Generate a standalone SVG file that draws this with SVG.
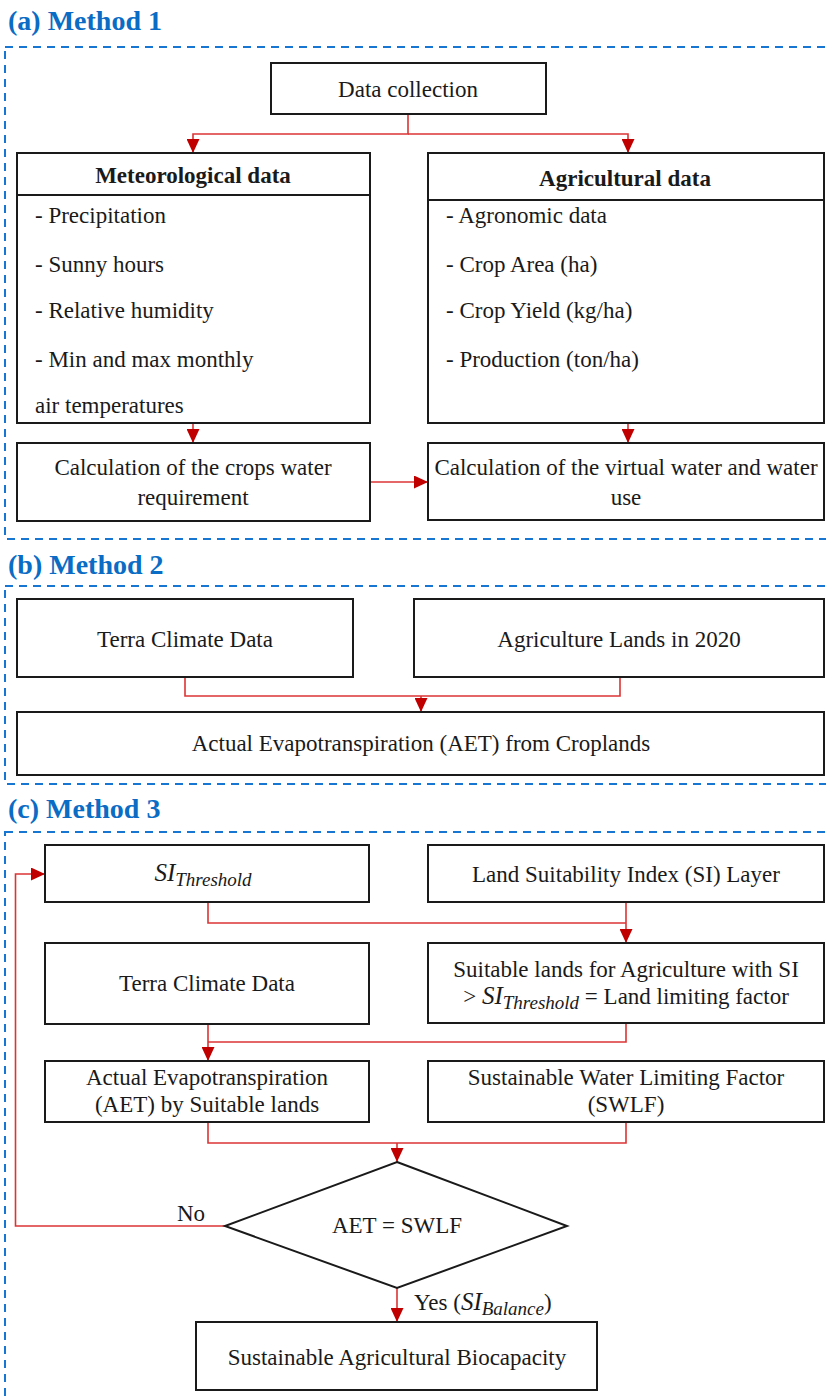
<svg xmlns="http://www.w3.org/2000/svg" width="826" height="1399" viewBox="0 0 826 1399" font-family="'Liberation Serif', 'Times New Roman', Tinos, 'DejaVu Serif', serif">
<style>
  text{font-family:'Liberation Serif','Times New Roman',Tinos,'DejaVu Serif',serif}
  .title{font-weight:bold;font-size:28px;fill:#0a6cc4}
  .frame{fill:none;stroke:#1776d1;stroke-width:2;stroke-dasharray:8 6}
  .box{fill:#fff;stroke:#1a1a1a;stroke-width:2}
  .t{font-size:23px;fill:#1a1a1a}
  .c{text-anchor:middle}
  .b{font-weight:bold}
  .it{font-style:italic;font-size:25px}
  .sub{font-style:italic;font-size:19px}
  .ln{fill:none;stroke:#dc3434;stroke-width:1.6}
</style>
<defs>
  <marker id="arr" markerUnits="userSpaceOnUse" markerWidth="14" markerHeight="13" refX="14" refY="6.5" orient="auto">
    <path d="M0,0 L14,6.5 L0,13 z" fill="#c00000"/>
  </marker>
</defs>

<!-- Section titles and frames -->
<text class="title" x="8" y="30">(a) Method 1</text>
<rect class="frame" x="5" y="47" width="830" height="492"/>
<text class="title" x="8" y="574">(b) Method 2</text>
<rect class="frame" x="5" y="586" width="830" height="198"/>
<text class="title" x="8" y="818">(c) Method 3</text>
<rect class="frame" x="5" y="832" width="830" height="600"/>

<!-- Connectors -->
<g id="connectors">
  <path class="ln" d="M408,114 V134 H193 V153" marker-end="url(#arr)"/>
  <path class="ln" d="M408,134 H628 V153" marker-end="url(#arr)"/>
  <path class="ln" d="M193,423 V443" marker-end="url(#arr)"/>
  <path class="ln" d="M628,423 V443" marker-end="url(#arr)"/>
  <path class="ln" d="M370,482 H428" marker-end="url(#arr)"/>

  <path class="ln" d="M185,677 V696 H620 V677"/>
  <path class="ln" d="M421,696 V712" marker-end="url(#arr)"/>

  <path class="ln" d="M208,902 V923 H626"/>
  <path class="ln" d="M626,902 V943" marker-end="url(#arr)"/>
  <path class="ln" d="M626,1023 V1042 H208"/>
  <path class="ln" d="M208,1024 V1061" marker-end="url(#arr)"/>
  <path class="ln" d="M208,1122 V1143 H626 V1122"/>
  <path class="ln" d="M397,1143 V1162" marker-end="url(#arr)"/>
  <path class="ln" d="M225,1226 H15.5 V874 H45" marker-end="url(#arr)"/>
  <path class="ln" d="M397,1288 V1322" marker-end="url(#arr)"/>
  <text class="t" x="177" y="1221">No</text>
  <text class="t" x="414" y="1310">Yes (<tspan class="it">SI</tspan><tspan class="sub" dy="5">Balance</tspan><tspan dy="-5">)</tspan></text>
</g>

<!-- Method 1 nodes -->
<g id="data-collection">
  <rect class="box" x="271" y="63" width="275" height="51"/>
  <text class="t c" x="408" y="97">Data collection</text>
</g>
<g id="meteorological-data">
  <rect class="box" x="17" y="153" width="353" height="270"/>
  <line x1="17" y1="195" x2="370" y2="195" stroke="#1a1a1a" stroke-width="2"/>
  <text class="t c b" x="193" y="183">Meteorological data</text>
  <text class="t" x="35" y="223">- Precipitation</text>
  <text class="t" x="35" y="272">- Sunny hours</text>
  <text class="t" x="35" y="318">- Relative humidity</text>
  <text class="t" x="35" y="367">- Min and max monthly</text>
  <text class="t" x="35" y="413">air temperatures</text>
</g>
<g id="agricultural-data">
  <rect class="box" x="428" y="153" width="396" height="270"/>
  <line x1="428" y1="200" x2="824" y2="200" stroke="#1a1a1a" stroke-width="2"/>
  <text class="t c b" x="625" y="186">Agricultural  data</text>
  <text class="t" x="446" y="223">- Agronomic data</text>
  <text class="t" x="446" y="272">- Crop Area (ha)</text>
  <text class="t" x="446" y="318">- Crop Yield (kg/ha)</text>
  <text class="t" x="446" y="367">- Production (ton/ha)</text>
</g>
<g id="crops-water-requirement">
  <rect class="box" x="17" y="443" width="353" height="78"/>
  <text class="t c" x="193" y="475">Calculation of the crops water</text>
  <text class="t c" x="193" y="505">requirement</text>
</g>
<g id="virtual-water">
  <rect class="box" x="428" y="443" width="396" height="77"/>
  <text class="t c" x="626" y="475">Calculation of the virtual water and water</text>
  <text class="t c" x="626" y="505">use</text>
</g>

<!-- Method 2 nodes -->
<g id="terra-climate-b">
  <rect class="box" x="17" y="599" width="336" height="78"/>
  <text class="t c" x="185" y="647">Terra Climate Data</text>
</g>
<g id="agriculture-lands">
  <rect class="box" x="414" y="599" width="410" height="78"/>
  <text class="t c" x="619" y="647">Agriculture Lands in 2020</text>
</g>
<g id="aet-croplands">
  <rect class="box" x="17" y="712" width="807" height="63"/>
  <text class="t c" x="421" y="751">Actual Evapotranspiration (AET) from Croplands</text>
</g>

<!-- Method 3 nodes -->
<g id="si-threshold">
  <rect class="box" x="45" y="845" width="324" height="57"/>
  <text class="t c" x="203" y="881"><tspan class="it">SI</tspan><tspan class="sub" dy="5">Threshold</tspan></text>
</g>
<g id="land-suitability">
  <rect class="box" x="428" y="845" width="396" height="57"/>
  <text class="t c" x="626" y="882">Land Suitability Index (SI) Layer</text>
</g>
<g id="terra-climate-c">
  <rect class="box" x="45" y="943" width="324" height="81"/>
  <text class="t c" x="207" y="991">Terra Climate Data</text>
</g>
<g id="suitable-lands">
  <rect class="box" x="428" y="943" width="396" height="80"/>
  <text class="t c" x="626" y="977">Suitable lands for Agriculture with SI</text>
  <text class="t c" x="626" y="1004">&gt; <tspan class="it">SI</tspan><tspan class="sub" dy="5">Threshold</tspan><tspan dy="-5"> = Land limiting factor</tspan></text>
</g>
<g id="aet-suitable">
  <rect class="box" x="45" y="1061" width="324" height="61"/>
  <text class="t c" x="207" y="1085">Actual Evapotranspiration</text>
  <text class="t c" x="207" y="1112">(AET) by Suitable lands</text>
</g>
<g id="swlf">
  <rect class="box" x="428" y="1061" width="396" height="61"/>
  <text class="t c" x="626" y="1085">Sustainable Water Limiting Factor</text>
  <text class="t c" x="626" y="1112">(SWLF)</text>
</g>
<g id="decision">
  <polygon class="box" points="397,1162 567,1226 397,1288 225,1226"/>
  <text class="t c" x="397" y="1233">AET = SWLF</text>
</g>
<g id="biocapacity">
  <rect class="box" x="196" y="1322" width="401" height="68"/>
  <text class="t c" x="397" y="1365">Sustainable Agricultural Biocapacity</text>
</g>
</svg>
